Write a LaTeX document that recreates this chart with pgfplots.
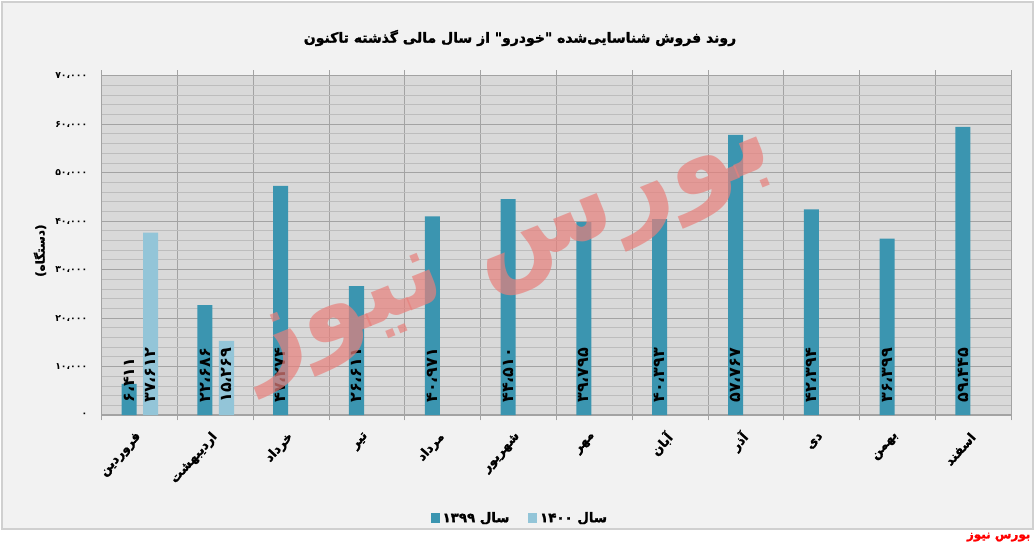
\documentclass[border=0pt]{standalone}
\usepackage{pgfplots}
\pgfplotsset{compat=1.18}
\usepackage{pgfplotstable}
\usepackage{fontspec}
\setmainfont{DejaVu Sans}
\newfontfamily\fa[Script=Arabic]{DejaVu Sans}
\newfontfamily\faB[Script=Arabic, FakeBold=1.5]{DejaVu Sans Bold}
\TeXXeTstate=1
\definecolor{cA}{HTML}{3B95B0}
\definecolor{cB}{HTML}{93C5D8}
\definecolor{plotbg}{HTML}{D9D9D9}
\definecolor{pagebg}{HTML}{F2F2F2}
\definecolor{gridmaj}{HTML}{A3A3A3}
\definecolor{gridmin}{HTML}{BDBDBD}
\definecolor{framec}{HTML}{D0D0D0}
\definecolor{wm}{HTML}{E8807C}

\pgfplotstableread{
x y lab
0 6411 ۶،۴۱۱
1 22686 ۲۲،۶۸۶
2 47274 ۴۷،۲۷۴
3 26611 ۲۶،۶۱۱
4 40971 ۴۰،۹۷۱
5 44510 ۴۴،۵۱۰
6 39795 ۳۹،۷۹۵
7 40393 ۴۰،۳۹۳
8 57767 ۵۷،۷۶۷
9 42394 ۴۲،۳۹۴
10 36399 ۳۶،۳۹۹
11 59445 ۵۹،۴۴۵
}\dataA

\pgfplotstableread{
x y lab
0 37612 ۳۷،۶۱۲
1 15269 ۱۵،۲۶۹
}\dataB

\begin{document}
\begin{tikzpicture}
\begin{scope}[x=0.75pt,y=0.75pt]
\fill[white] (0,0) rectangle (1035,547);
\filldraw[fill=pagebg, draw=framec, line width=1.2pt] (2,18) rectangle (1033,545);
\end{scope}
\begin{axis}[
  at={(76.3pt,99pt)}, anchor=south west,
  scale only axis, width=682.2pt, height=254.5pt,
  xmin=0, xmax=12, ymin=0, ymax=70000,
  scaled y ticks=false,
  axis background/.style={fill=plotbg},
  axis line style={draw=gridmaj},
  xtick={0.5,1.5,...,11.5},
  xticklabels={فروردین,اردیبهشت,خرداد,تیر,مرداد,شهریور,مهر,آبان,آذر,دی,بهمن,اسفند},
  minor xtick={0,1,...,12},
  xminorgrids, minor x grid style={draw=gridmaj, line width=0.8pt},
  x tick style={draw=none},
  minor x tick style={draw=gridmaj, line width=0.8pt},
  minor tick length=4pt, tick align=outside,
  xticklabel style={font=\faB\fontsize{9.5}{9.5}\selectfont, anchor=east, xshift=2pt, yshift=-8pt, rotate=48},
  ytick={0,10000,...,70000},
  yticklabels={۰,۱۰،۰۰۰,۲۰،۰۰۰,۳۰،۰۰۰,۴۰،۰۰۰,۵۰،۰۰۰,۶۰،۰۰۰,۷۰،۰۰۰},
  yticklabel style={font=\fa\bfseries\fontsize{7}{7}\selectfont, xshift=-3pt},
  y tick style={draw=none},
  minor y tick num=4,
  ymajorgrids, major grid style={draw=gridmaj, line width=0.8pt},
  yminorgrids, minor y grid style={draw=gridmin, line width=0.6pt},
  ylabel={\faB (دستگاه)},
  ylabel style={font=\fontsize{9}{9}\selectfont, at={(ticklabel cs:0.5)}, xshift=-4pt},
  legend style={at={(0.46,-0.304)}, anchor=center, draw=none, fill=none,
    font=\faB\fontsize{10}{10}\selectfont, legend columns=2,
    /tikz/every even column/.append style={column sep=12pt}},
  legend image code/.code={\fill[#1] (0pt,-3.5pt) rectangle (7pt,3.5pt);},
  clip=false,
]
\addplot[ybar, bar width=0.198, bar shift=0pt, fill=cA, draw=none]
  table[x expr=\thisrow{x}+0.361, y=y] {\dataA};
\addlegendentry{\beginR سال ۱۳۹۹\endR}
\addplot[ybar, bar width=0.198, bar shift=0pt, fill=cB, draw=none]
  table[x expr=\thisrow{x}+0.646, y=y] {\dataB};
\addlegendentry{\beginR سال ۱۴۰۰\endR}
\addplot[draw=none, mark=none, forget plot, nodes near coords, point meta=explicit symbolic,
  every node near coord/.style={font=\fa\bfseries\fontsize{12}{12}\selectfont, text=black, yshift=9pt, rotate=90, anchor=west, inner sep=0pt}]
  table[x expr=\thisrow{x}+0.361, y expr=0, meta=lab] {\dataA};
\addplot[draw=none, mark=none, forget plot, nodes near coords, point meta=explicit symbolic,
  every node near coord/.style={font=\fa\bfseries\fontsize{12}{12}\selectfont, text=black, yshift=9pt, rotate=90, anchor=west, inner sep=0pt}]
  table[x expr=\thisrow{x}+0.646, y expr=0, meta=lab] {\dataB};
\end{axis}
\begin{scope}[x=0.75pt,y=0.75pt]
\node[font=\faB\fontsize{10.5}{10.5}\selectfont] at (520,509) {\beginR روند فروش شناسایی‌شده "خودرو" از سال مالی گذشته تاکنون\endR};
\node[text=wm, opacity=0.7, rotate=22, font=\fa\bfseries\fontsize{80}{80}\selectfont] at (510,290) {\beginR بورس نیوز\endR};
\node[anchor=east, text=red, font=\faB\fontsize{9}{9}\selectfont, inner sep=1pt] at (1032,10) {\beginR بورس نیوز\endR};
\end{scope}
\end{tikzpicture}
\end{document}
